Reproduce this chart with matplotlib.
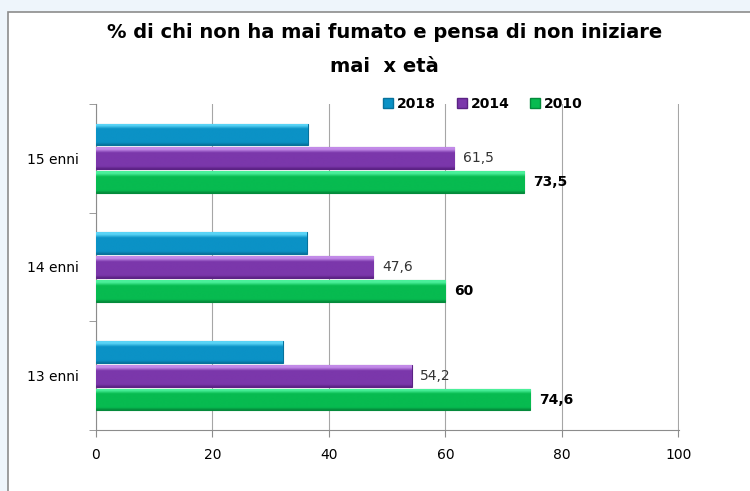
import matplotlib.pyplot as plt
import matplotlib.patches as mpatches
from matplotlib.colors import LinearSegmentedColormap
import numpy as np

# data
categories = ['13 enni', '14 enni', '15 enni']
years = ['2018', '2014', '2010']
val2018 = [32.1, 36.2, 36.4]
val2014 = [54.2, 47.6, 61.5]
val2010 = [74.6, 60.0, 73.5]
lab2014 = ['54,2', '47,6', '61,5']
lab2010 = ['74,6', '60', '73,5']

colors = {'2018': ('#5ad4f6', '#0b92c6', '#07729c'),
          '2014': ('#c28ae8', '#7b37ab', '#5b2284'),
          '2010': ('#4af09a', '#07bb50', '#048a3b')}

fig = plt.figure(figsize=(7.5, 4.91), dpi=100)
fig.patch.set_facecolor('#eef5fb')
# chart frame
frame = mpatches.Rectangle((8 / 750, -0.01), 0.999, 1 - 12 / 491 + 0.01,
                           transform=fig.transFigure, facecolor='white',
                           edgecolor='#8c8c8c', linewidth=1.2, zorder=-10)
fig.patches.append(frame)

ax = fig.add_axes([96 / 750, 61 / 491, 583 / 750, 326 / 491])
ax.set_facecolor('none')

y = np.arange(len(categories))
h = 0.2
step = 0.22
series = [('2018', val2018, step), ('2014', val2014, 0), ('2010', val2010, -step)]

grad = np.linspace(0, 1, 64).reshape(-1, 1)


def gradient_bar(ax, yc, w, hh, cols):
    top, mid, dark = cols
    bar = ax.barh(yc, w, height=hh, color=mid, edgecolor=dark, linewidth=0.8, zorder=3)
    rect = bar[0]
    cmap = LinearSegmentedColormap.from_list(
        'g', [(0, dark), (0.12, mid), (0.75, mid), (0.9, top), (1, top)])
    im = ax.imshow(grad, cmap=cmap, aspect='auto', origin='lower',
                   interpolation='bilinear',
                   extent=(0, w, yc - hh / 2, yc + hh / 2), zorder=3.5)
    im.set_clip_path(rect)
    return bar


for name, vals, off in series:
    for i, v in enumerate(vals):
        gradient_bar(ax, y[i] + off, v, h, colors[name])

for i in range(len(categories)):
    ax.text(val2014[i] + 1.5, y[i], lab2014[i], va='center', ha='left',
            fontsize=10, color='#333333', zorder=5)
    ax.text(val2010[i] + 1.5, y[i] - step, lab2010[i], va='center', ha='left',
            fontsize=10, fontweight='bold', color='black', zorder=5)

ax.set_xlim(0, 100.1)
ax.set_ylim(-0.5, 2.5)
ax.set_xticks(np.arange(0, 101, 20))
ax.set_yticks(y)
ax.set_yticklabels(categories)
ax.set_yticks([-0.5, 0.5, 1.5, 2.5], minor=True)
ax.tick_params(axis='y', which='major', length=0, labelsize=10, pad=12)
ax.tick_params(axis='y', which='minor', length=5, color='#8c8c8c', direction='out')
ax.tick_params(axis='x', length=5, color='#8c8c8c', labelsize=10, pad=8)
ax.grid(axis='x', color='#a6a6a6', linewidth=0.8)
ax.set_axisbelow(True)
for s in ['top', 'right']:
    ax.spines[s].set_visible(False)
for s in ['left', 'bottom']:
    ax.spines[s].set_color('#8c8c8c')

handles = [mpatches.Patch(facecolor=colors[n][1], edgecolor=colors[n][2]) for n in years]
leg = ax.legend(handles, years, loc='center', bbox_to_anchor=(0.664, 1.0), ncol=3,
                frameon=False, handlelength=0.7, handleheight=0.7, handletextpad=0.3,
                columnspacing=1.5, prop={'weight': 'bold', 'size': 10})

fig.text(0.513, 1 - 33 / 491, '% di chi non ha mai fumato e pensa di non iniziare',
         ha='center', va='center', fontsize=14, fontweight='bold')
fig.text(0.513, 1 - 66 / 491, 'mai  x età', ha='center', va='center',
         fontsize=14, fontweight='bold')

fig.savefig('out.png', dpi=100)
